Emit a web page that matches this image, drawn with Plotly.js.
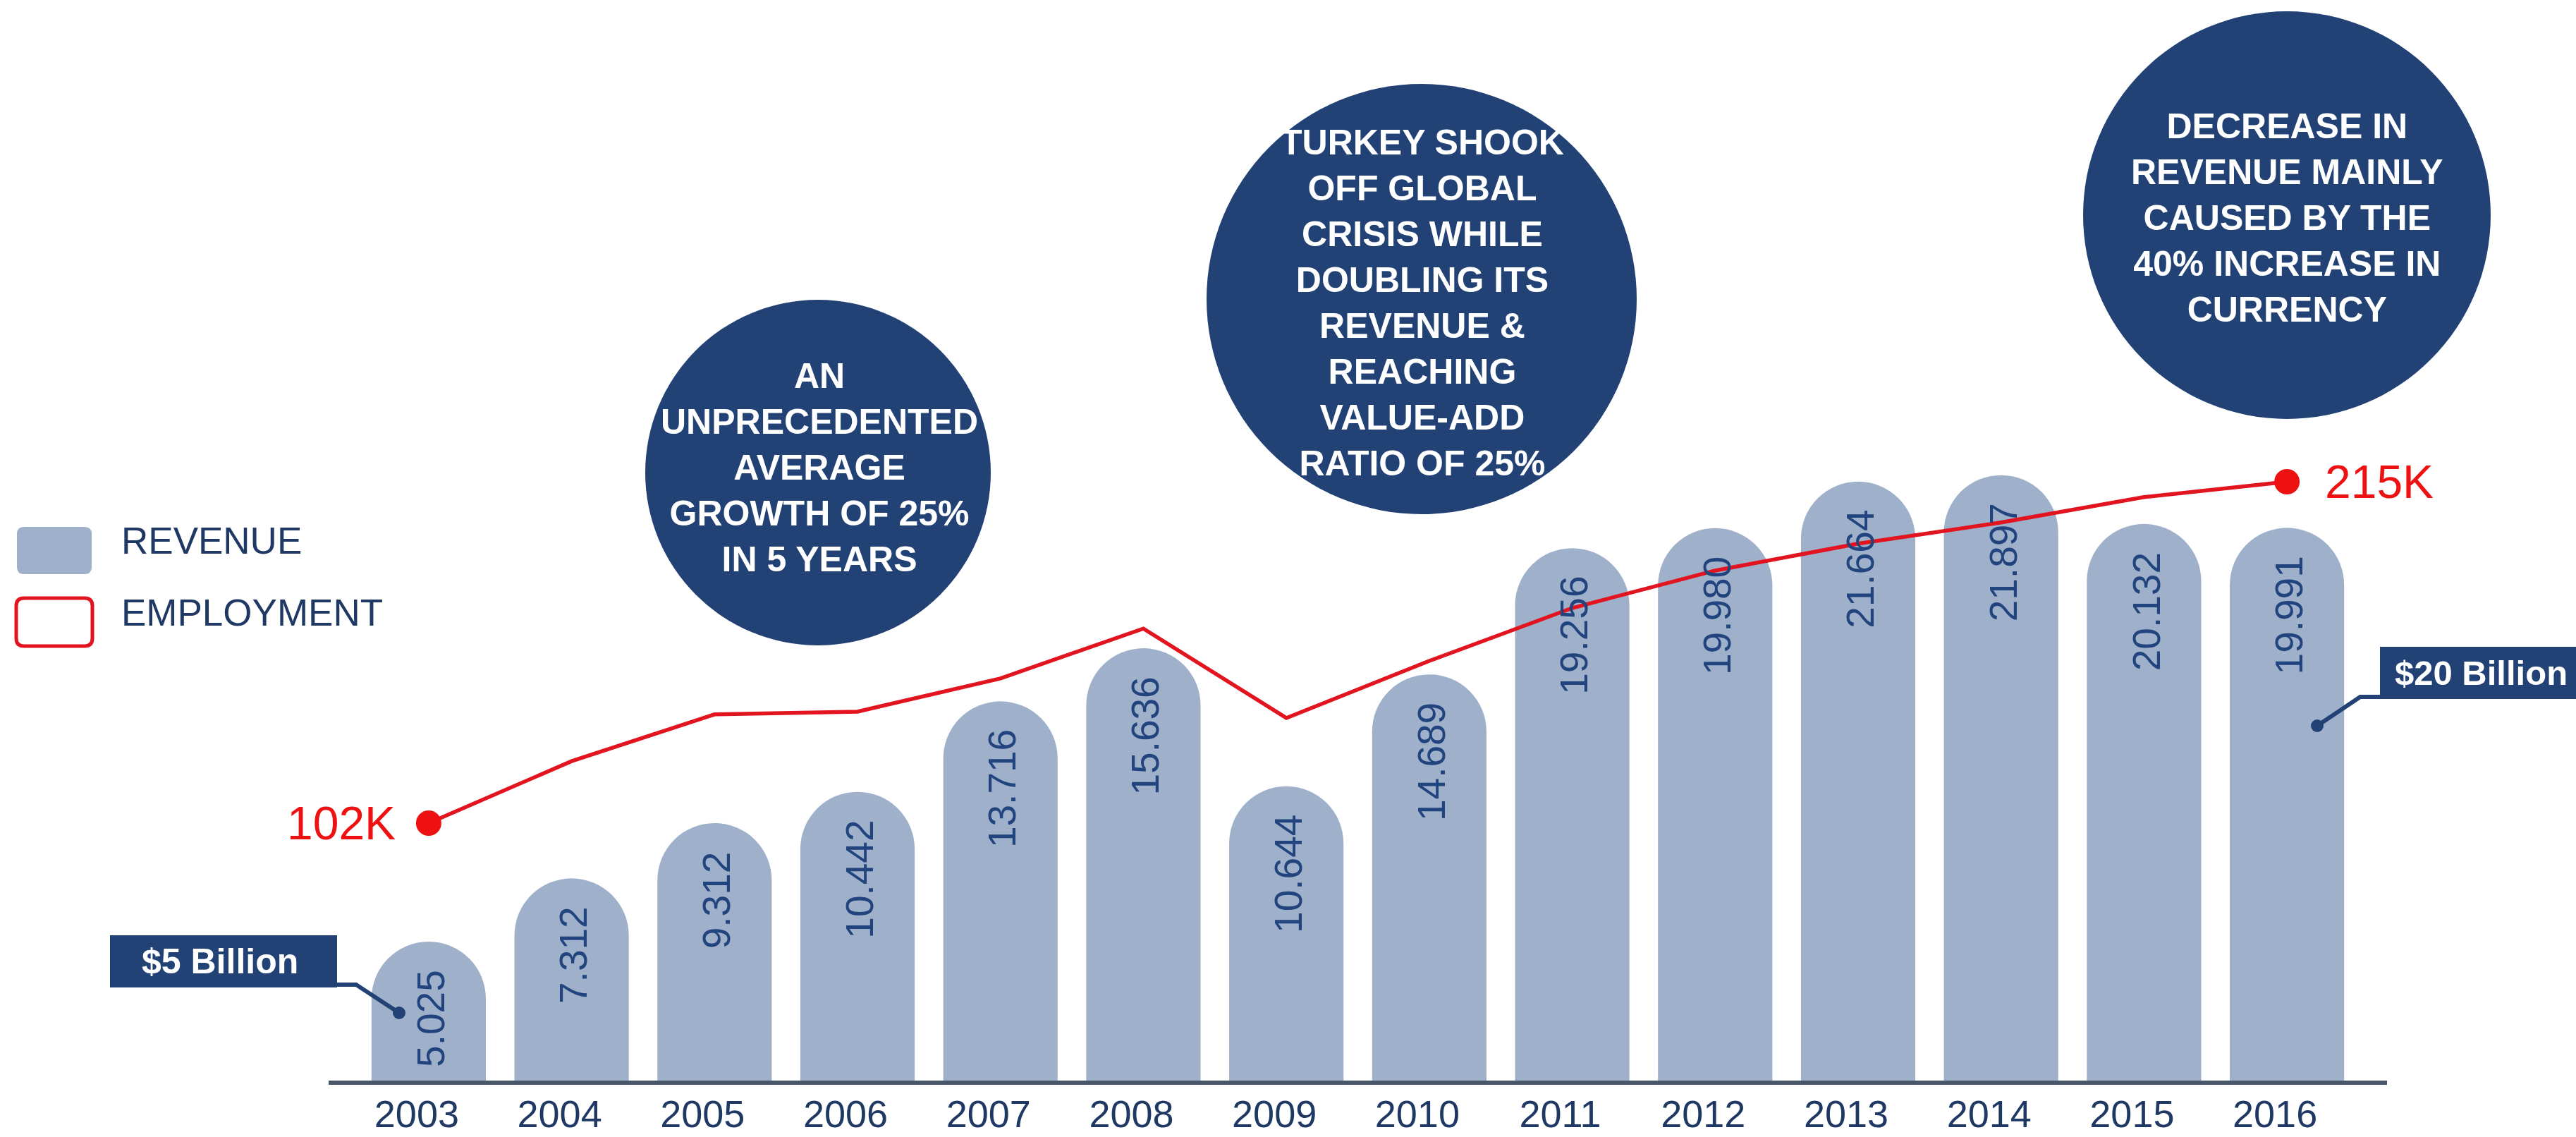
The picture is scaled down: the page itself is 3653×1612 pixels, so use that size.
<!DOCTYPE html>
<html><head><meta charset="utf-8">
<script src="https://cdn.plot.ly/plotly-3.0.1.min.js"></script>
<style>html,body{margin:0;padding:0;background:#fff;overflow:hidden}</style>
</head><body>
<div id="chart" style="width:3653px;height:1612px"></div>
<script>
// ---------- data ----------
const years = ['2003','2004','2005','2006','2007','2008','2009','2010','2011','2012','2013','2014','2015','2016'];
const revenue = [5.025, 7.312, 9.312, 10.442, 13.716, 15.636, 10.644, 14.689, 19.256, 19.980, 21.664, 21.897, 20.132, 19.991];
const employment = [102, 122.5, 138, 138.9, 149.9, 166.4, 136.8, 155.7, 173.2, 185.6, 194.5, 201.5, 209.9, 215];
const employmentEndLabels = ['102K', '215K'];
const legendLabels = ['REVENUE', 'EMPLOYMENT'];
const calloutLabels = ['$5 Billion', '$20 Billion'];
const notes = [
  'AN<br>UNPRECEDENTED<br>AVERAGE<br>GROWTH OF 25%<br>IN 5 YEARS',
  'TURKEY SHOOK<br>OFF GLOBAL<br>CRISIS WHILE<br>DOUBLING ITS<br>REVENUE &amp;<br>REACHING<br>VALUE-ADD<br>RATIO OF 25%',
  'DECREASE IN<br>REVENUE MAINLY<br>CAUSED BY THE<br>40% INCREASE IN<br>CURRENCY'
];

// ---------- styles / geometry ----------
const W = 3653, H = 1612, L = 466, R = 268, T = 0, B = 80;
const PW = W - L - R, PH = H - T - B;
const NAVY = '#224276', BAR = '#9fb1ca', TXT = '#1f3864', VAL = '#21447e', RED = '#e2141f', DOT = '#ee1111';
const SANS = 'Liberation Sans, Arial, Helvetica, sans-serif';
const px = x => (x - L) / PW;
const py = y => (T + PH - y) / PH;
const REV_PX_PER_UNIT = 39.2;
function rangeFor(v0, y0, v1, y1) {
  const f0 = py(y0), f1 = py(y1);
  const span = (v1 - v0) / (f1 - f0);
  const r0 = v0 - f0 * span;
  return [r0, r0 + span];
}
function rr(x0, y0, x1, y1, r) {
  return `M ${px(x0+r)},${py(y0)} L ${px(x1-r)},${py(y0)} Q ${px(x1)},${py(y0)} ${px(x1)},${py(y0+r)} ` +
    `L ${px(x1)},${py(y1-r)} Q ${px(x1)},${py(y1)} ${px(x1-r)},${py(y1)} L ${px(x0+r)},${py(y1)} ` +
    `Q ${px(x0)},${py(y1)} ${px(x0)},${py(y1-r)} L ${px(x0)},${py(y0+r)} Q ${px(x0)},${py(y0)} ${px(x0+r)},${py(y0)} Z`;
}
function poly(pts) {
  return pts.map((p, i) => (i ? 'L ' : 'M ') + px(p[0]) + ',' + py(p[1])).join(' ');
}
function circle(cx, cy, r, color) {
  return {type: 'circle', xref: 'paper', yref: 'paper', xsizemode: 'pixel', ysizemode: 'pixel',
    xanchor: px(cx), yanchor: py(cy), x0: -r, x1: r, y0: -r, y1: r,
    fillcolor: color, line: {width: 0}, layer: 'above'};
}

// ---------- traces ----------
const barTrace = {
  type: 'bar', x: years, y: revenue, xaxis: 'x', yaxis: 'y',
  marker: {color: BAR, cornerradius: '50%', line: {width: 0}},
  hoverinfo: 'skip'
};
const lineTrace = {
  type: 'scatter', mode: 'lines', x: years, y: employment, xaxis: 'x', yaxis: 'y2',
  line: {color: RED, width: 5.5}, hoverinfo: 'skip'
};
const last = years.length - 1;
const endTrace = {
  type: 'scatter', mode: 'markers', x: [years[0], years[last]],
  y: [employment[0], employment[last]], xaxis: 'x', yaxis: 'y2',
  marker: {color: DOT, size: 36}, hoverinfo: 'skip'
};

// ---------- annotations ----------
const annotations = [];
years.forEach((yr, i) => {
  annotations.push({
    x: i, y: revenue[i], xref: 'x', yref: 'y', text: revenue[i].toFixed(3),
    textangle: -90, xanchor: 'center', yanchor: 'top', yshift: -38, xshift: 3, showarrow: false,
    font: {family: SANS, size: 55, color: VAL}
  });
});
annotations.push({x: 0, y: employment[0], xref: 'x', yref: 'y2', text: employmentEndLabels[0],
  xanchor: 'right', yanchor: 'middle', xshift: -45, showarrow: false, font: {family: SANS, size: 66, color: DOT}});
annotations.push({x: last, y: employment[last], xref: 'x', yref: 'y2', text: employmentEndLabels[1],
  xanchor: 'left', yanchor: 'middle', xshift: 52, showarrow: false, font: {family: SANS, size: 66, color: DOT}});

annotations.push({x: px(170), y: py(767), xref: 'paper', yref: 'paper', text: legendLabels[0], xanchor: 'left', yanchor: 'middle',
  showarrow: false, font: {family: SANS, size: 53, color: TXT}});
annotations.push({x: px(170), y: py(868), xref: 'paper', yref: 'paper', text: legendLabels[1], xanchor: 'left', yanchor: 'middle',
  showarrow: false, font: {family: SANS, size: 53, color: TXT}});

annotations.push({x: px(312), y: py(1363), xref: 'paper', yref: 'paper', text: calloutLabels[0], xanchor: 'center', yanchor: 'middle',
  showarrow: false, font: {family: SANS, size: 50, color: '#ffffff', weight: 700}});
annotations.push({x: px(3394), y: py(954), xref: 'paper', yref: 'paper', text: calloutLabels[1], xanchor: 'left', yanchor: 'middle',
  showarrow: false, font: {family: SANS, size: 49, color: '#ffffff', weight: 700}});

const noteGeom = [[1160, 670, 245, 1162, 663], [2016, 424, 305, 2017, 429], [3243, 305, 289, 3243, 309]];
notes.forEach((t, i) => {
  const g = noteGeom[i];
  annotations.push({x: px(g[3]), y: py(g[4]), xref: 'paper', yref: 'paper', text: t, xanchor: 'center', yanchor: 'middle',
    align: 'center', showarrow: false, font: {family: SANS, size: 50, color: '#ffffff', weight: 700}});
});

// ---------- shapes ----------
const shapes = [];
noteGeom.forEach(g => shapes.push(circle(g[0], g[1], g[2], NAVY)));
shapes.push({type: 'path', xref: 'paper', yref: 'paper', path: rr(24, 747, 130, 814, 10), fillcolor: BAR, line: {width: 0}});
shapes.push({type: 'path', xref: 'paper', yref: 'paper', path: rr(23, 848, 131, 916, 11), fillcolor: '#ffffff', line: {color: RED, width: 5}});
shapes.push({type: 'rect', xref: 'paper', yref: 'paper', x0: px(156), x1: px(478), y0: py(1326), y1: py(1400), fillcolor: NAVY, line: {width: 0}});
shapes.push({type: 'rect', xref: 'paper', yref: 'paper', x0: px(3375), x1: px(3720), y0: py(917), y1: py(991), fillcolor: NAVY, line: {width: 0}});
shapes.push({type: 'path', xref: 'paper', yref: 'paper', path: poly([[470, 1396], [505, 1396], [566, 1436]]), line: {color: NAVY, width: 6}});
shapes.push({type: 'path', xref: 'paper', yref: 'paper', path: poly([[3286, 1029], [3347, 988], [3380, 988]]), line: {color: NAVY, width: 6}});
shapes.push(circle(566, 1436, 9, NAVY));
shapes.push(circle(3286, 1029, 9, NAVY));

const layout = {
  width: W, height: H,
  margin: {l: L, r: R, t: T, b: B, pad: 0},
  paper_bgcolor: '#ffffff', plot_bgcolor: 'rgba(0,0,0,0)',
  showlegend: false, bargap: 0.2,
  xaxis: {type: 'category', range: [-0.7, 13.7], showline: true, linecolor: '#48566a', linewidth: 6,
    showgrid: false, zeroline: false, ticks: '', automargin: false, fixedrange: true,
    tickfont: {family: SANS, size: 54, color: TXT}, ticklabelstandoff: -5, ticklabelshift: -17},
  yaxis: {range: [0, PH / REV_PX_PER_UNIT], visible: false, showgrid: false, zeroline: false, fixedrange: true},
  yaxis2: {range: rangeFor(employment[0], 1167, employment[last], 683), overlaying: 'y', visible: false,
    showgrid: false, zeroline: false, fixedrange: true},
  annotations: annotations,
  shapes: shapes
};

Plotly.newPlot('chart', [barTrace, lineTrace, endTrace], layout, {staticPlot: true, displayModeBar: false});
</script>
</body></html>
